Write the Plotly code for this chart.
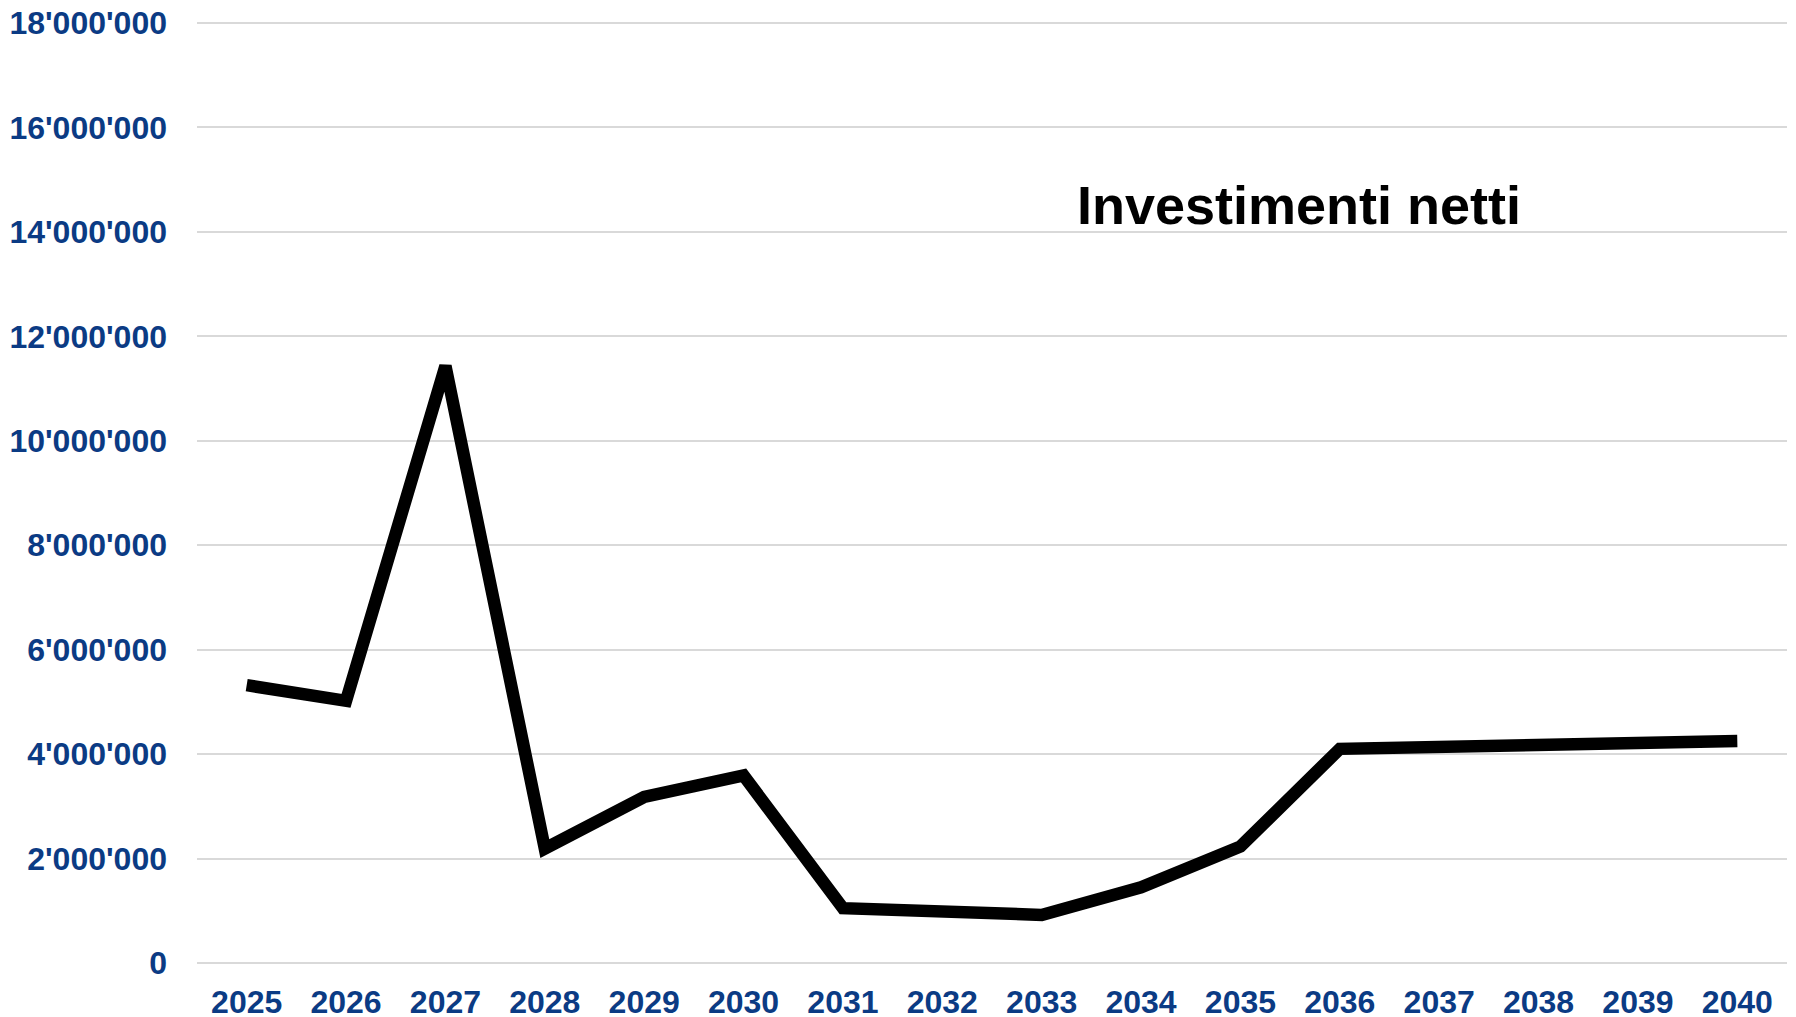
import plotly.graph_objects as go

years = [str(y) for y in range(2025, 2041)]
values = [5320000, 5020000, 11430000, 2190000, 3180000, 3590000, 1050000, 990000,
          920000, 1450000, 2230000, 4100000, 4140000, 4180000, 4230000, 4250000]
y_ticks = [0, 2000000, 4000000, 6000000, 8000000, 10000000, 12000000, 14000000, 16000000, 18000000]
title_text = "Investimenti netti"

tick_color = "#0B3B84"
font_family = "Liberation Sans, Arial, sans-serif"

fig = go.Figure()
fig.add_trace(go.Scatter(
    x=years, y=values, mode="lines",
    line=dict(color="black", width=12.5),
    showlegend=False, hoverinfo="skip",
))

# the page body adds an 8px offset, so the figure is sized to fill the window
fig.update_layout(
    width=1788, height=1009,
    margin=dict(l=189, r=9, t=14, b=53, autoexpand=False),
    plot_bgcolor="white", paper_bgcolor="white",
    separators=".'",
    xaxis=dict(
        type="category", automargin=False,
        range=[-0.5, len(years) - 0.5],
        showgrid=False, zeroline=False, showline=False,
        ticks="", ticklabelstandoff=16, ticklabeloverflow="allow",
        tickfont=dict(family=font_family, size=32, color=tick_color, weight="bold"),
    ),
    yaxis=dict(
        automargin=False,
        range=[-20000, 18020000],
        tickvals=y_ticks, tickformat=",d",
        showgrid=True, gridcolor="#D9D9D9", gridwidth=2,
        zeroline=False, showline=False,
        ticks="", ticklabelstandoff=29, ticklabeloverflow="allow",
        tickfont=dict(family=font_family, size=32, color=tick_color, weight="bold"),
    ),
    annotations=[dict(
        text=title_text, xref="paper", yref="paper",
        x=0.693, y=0.806, xanchor="center", yanchor="middle",
        showarrow=False,
        font=dict(family=font_family, size=54, color="black", weight="bold"),
    )],
)

fig.write_html("out.html")
